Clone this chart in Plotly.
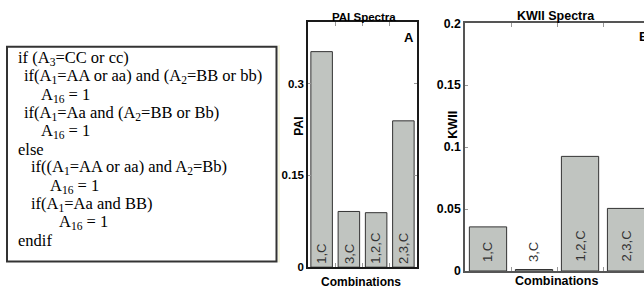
import plotly.graph_objects as go

W, H = 644, 298

# ---- data ----
categories = ["1,C", "3,C", "1,2,C", "2,3,C"]
pai_values = [0.352, 0.091, 0.089, 0.239]
kwii_values = [0.0356, 0.0012, 0.0925, 0.0505]
pai_ticks = [0, 0.15, 0.3]
pai_ticktext = ["0", "0.15", "0.3"]
kwii_ticks = [0, 0.05, 0.1, 0.15, 0.2]
kwii_ticktext = ["0", "0.05", "0.1", "0.15", "0.2"]

code_lines = [
    "if (A<sub>3</sub>=CC or cc)",
    "if(A<sub>1</sub>=AA or aa) and (A<sub>2</sub>=BB or bb)",
    "A<sub>16</sub> = 1",
    "if(A<sub>1</sub>=Aa and (A<sub>2</sub>=BB or Bb)",
    "A<sub>16</sub> = 1",
    "else",
    "if((A<sub>1</sub>=AA or aa) and A<sub>2</sub>=Bb)",
    "A<sub>16</sub> = 1",
    "if(A<sub>1</sub>=Aa and BB)",
    "A<sub>16</sub> = 1",
    "endif",
]
code_indent = [16.7, 23.3, 40, 23.3, 40, 16.7, 30, 49.3, 30, 58.3, 16.7]
CODE_TOP, CODE_STEP = 53.7, 19.1


def px(x):
    return x / W


def py(y):
    return 1 - y / H


BAR_FILL = "#C0C4C0"
BAR_LINE = "#333333"
positions = list(range(len(categories)))

fig = go.Figure()
fig.add_trace(go.Bar(x=positions, y=pai_values, width=0.79,
                     marker=dict(color=BAR_FILL, line=dict(color=BAR_LINE, width=1)),
                     xaxis="x", yaxis="y", showlegend=False, hoverinfo="skip"))
fig.add_trace(go.Bar(x=positions, y=kwii_values, width=0.81,
                     marker=dict(color=BAR_FILL, line=dict(color=BAR_LINE, width=1)),
                     xaxis="x2", yaxis="y2", showlegend=False, hoverinfo="skip"))

tickfont_pai = dict(family="Arial", size=11.5, color="black", weight="bold")
tickfont_kwii = dict(family="Arial", size=12.3, color="black", weight="bold")

common_x = dict(range=[-0.5, 3.5], tickmode="array", tickvals=[0.5, 1.5, 2.5],
                showticklabels=False, ticks="inside", ticklen=4, tickcolor="#999999",
                showgrid=False, zeroline=False, showline=True, fixedrange=True)

fig.update_layout(
    width=W, height=H,
    margin=dict(l=0, r=0, t=0, b=0),
    paper_bgcolor="white", plot_bgcolor="white",
    xaxis=dict(common_x, domain=[px(308), px(417)], linecolor="#1a1a1a", linewidth=1.5,
               mirror="ticks", anchor="y"),
    yaxis=dict(domain=[py(273), py(16)], range=[0, 0.4], tickmode="array",
               tickvals=pai_ticks, ticktext=pai_ticktext, ticks="inside", ticklen=3,
               tickcolor="#999999", showgrid=False, zeroline=False, showline=True,
               linecolor="#1a1a1a", linewidth=1.5, mirror="ticks", tickfont=tickfont_pai,
               anchor="x", fixedrange=True),
    xaxis2=dict(common_x, domain=[px(465), 1.0], range=[-0.5, 3.39], linecolor="#555555",
                linewidth=1.5, mirror="ticks", anchor="y2"),
    yaxis2=dict(domain=[py(277), py(17)], range=[0, 0.2], tickmode="array",
                tickvals=kwii_ticks, ticktext=kwii_ticktext, ticks="inside", ticklen=3,
                tickcolor="#999999", showgrid=False, zeroline=False, showline=True,
                linecolor="#555555", linewidth=1.5, mirror=False, tickfont=tickfont_kwii,
                anchor="x2", fixedrange=True),
)

ann = []
# bar labels
for i, c in enumerate(categories):
    ann.append(dict(x=i, y=0, xref="x", yref="y", text=c, showarrow=False,
                    textangle=-90, xanchor="center", yanchor="bottom", yshift=1,
                    font=dict(family="Arial", size=13, color="#333333")))
    ann.append(dict(x=i, y=0, xref="x2", yref="y2", text=c, showarrow=False,
                    textangle=-90, xanchor="center", yanchor="bottom", yshift=7,
                    font=dict(family="Arial", size=13, color="#333333")))


def label(text, x, y, size, angle=0, xanchor="center", weight="bold"):
    return dict(x=px(x), y=py(y), xref="paper", yref="paper", text=text, showarrow=False,
                textangle=angle, xanchor=xanchor, yanchor="middle",
                font=dict(family="Arial", size=size, color="black", weight=weight))


ann += [
    label("PAI Spectra", 364, 10, 11.5),
    label("KWII Spectra", 556, 9.5, 12.5),
    label("Combinations", 360.5, 289, 12),
    label("Combinations", 556.5, 287.5, 12.5),
    label("A", 408.5, 32.5, 13),
    label("B", 637, 30.5, 13, xanchor="left"),
    label("PAI", 299.5, 125, 12, angle=-90),
    label("KWII", 453.5, 123, 12.6, angle=-90),
]

for k, (t, x) in enumerate(zip(code_lines, code_indent)):
    ann.append(dict(x=px(x - 1), y=py(CODE_TOP + k * CODE_STEP), xref="paper",
                    yref="paper", text=t, showarrow=False, xanchor="left",
                    yanchor="middle",
                    font=dict(family="Liberation Serif", size=16.5, color="black")))

fig.update_layout(annotations=ann)

fig.add_shape(type="rect", xref="paper", yref="paper",
              x0=px(7), x1=px(276.5), y0=py(267), y1=py(41.7),
              line=dict(color="#333333", width=2), fillcolor="rgba(0,0,0,0)")
fig.add_shape(type="line", xref="paper", yref="paper",
              x0=px(279), x1=px(279), y0=py(268), y1=py(40),
              line=dict(color="#eeeec4", width=1))

fig.write_html("out.html", config={"displayModeBar": False},
               post_script="document.body.style.margin='0';")
